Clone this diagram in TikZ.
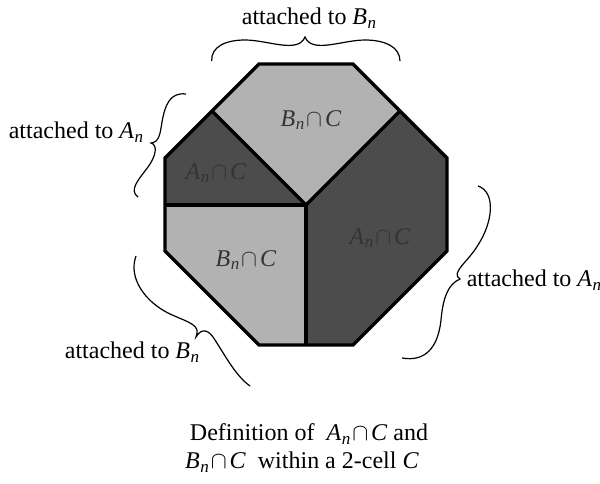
\documentclass[tikz,border=0pt]{standalone}
\usepackage{fontspec}
\setmainfont{Liberation Serif}
\newcommand{\subn}[1]{\textit{#1}\kern0.02em\raisebox{-0.35ex}{\fontsize{8.5}{9}\selectfont\itshape n}}
\newcommand{\capC}[1]{\subn{#1}\kern0.08em$\cap$\kern0.12em\textit{C}}
\begin{document}
\begin{tikzpicture}[x=0.5pt,y=-0.5pt,
  lightreg/.style={fill=black!30},
  darkreg/.style={fill=black!70},
  edgeline/.style={line width=1.6pt,line join=miter},
  bracepath/.style={line width=0.6pt},
  lbl/.style={font=\fontsize{12}{14}\selectfont,inner sep=0pt},
  reglbl/.style={lbl,text=black!80}]
\useasboundingbox (0,0) rectangle (600,483);
% octagon vertices
\coordinate (TL) at (259,64);
\coordinate (TR) at (353,64);
\coordinate (RU) at (447,158);
\coordinate (RL) at (447,251);
\coordinate (BR) at (353,345);
\coordinate (BL) at (259,345);
\coordinate (LL) at (165,251);
\coordinate (LU) at (165,158);
% interior points
\coordinate (O) at (306,205);
\coordinate (ML) at (165,205);
\coordinate (MB) at (306,345);
\coordinate (MUL) at (212,111);
\coordinate (MUR) at (400,111);
% regions
\fill[lightreg] (O) -- (MUL) -- (TL) -- (TR) -- (MUR) -- cycle;
\fill[darkreg] (O) -- (ML) -- (LU) -- (MUL) -- cycle;
\fill[lightreg] (O) -- (ML) -- (LL) -- (BL) -- (MB) -- cycle;
\fill[darkreg] (O) -- (MB) -- (BR) -- (RL) -- (RU) -- (MUR) -- cycle;
% lines
\draw[edgeline] (MUL) -- (O) -- (MUR);
\draw[edgeline] (ML) -- (O) -- (MB);
\draw[edgeline] (TL) -- (TR) -- (RU) -- (RL) -- (BR) -- (BL) -- (LL) -- (LU) -- cycle;
% region labels
\node[reglbl] (r1) at (311,120) {\capC{B}};
\node[reglbl] (r2) at (216,173) {\capC{A}};
\node[reglbl] (r3) at (246,260) {\capC{B}};
\node[reglbl] (r4) at (380,238) {\capC{A}};
% braces
\draw[bracepath] (211.7,61) .. controls (211,47) and (225,40) .. (245,40) .. controls (268,40) and (298,54) .. (305,37) .. controls (312,54) and (342,40) .. (365,40) .. controls (385,40) and (400,47) .. (400,61);
\draw[bracepath] (186,94) .. controls (170,92) and (165,105) .. (162,122) .. controls (160,135) and (159,142) .. (151,143) .. controls (158,145) and (156,156) .. (148,167) .. controls (140,178) and (128,190) .. (138,197);
\draw[bracepath] (136,256) .. controls (128,278) and (145,302) .. (170,314) .. controls (190,323) and (201,325) .. (196,337) .. controls (202,327) and (209,330) .. (215,340) .. controls (226,357) and (236,376) .. (250,386);
\draw[bracepath] (478,186) .. controls (496,192) and (493,222) .. (478,245) .. controls (468,262) and (450,273) .. (460,279) .. controls (448,284) and (443,298) .. (441,320) .. controls (438,348) and (425,362) .. (402,358);
% brace labels
\node[lbl] (tB) at (309,18) {attached to \subn{B}};
\node[lbl] (lA) at (76,132) {attached to \subn{A}};
\node[lbl] (lB) at (132,352) {attached to \subn{B}};
\node[lbl] (rA) at (534,280) {attached to \subn{A}};
% caption
\node[lbl] (cap1) at (309,434) {Definition of \ \capC{A} and};
\node[lbl] (cap2) at (302,462) {\capC{B} \ within a 2-cell \textit{C}};
\end{tikzpicture}
\end{document}
